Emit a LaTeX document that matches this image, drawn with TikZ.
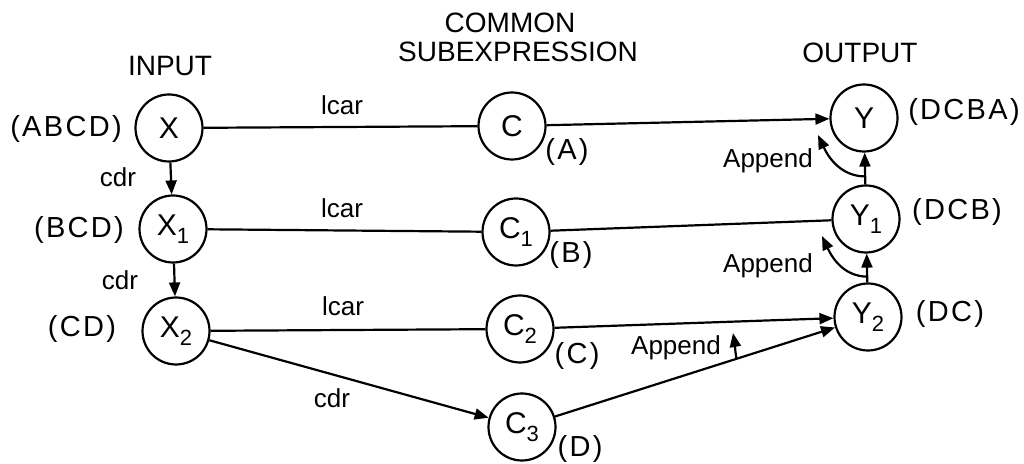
\documentclass[tikz,border=0pt]{standalone}
\usepackage{fontspec}
\setmainfont{Liberation Sans}
\usetikzlibrary{arrows.meta,calc}
\newcommand\sub[1]{\raisebox{-0.5ex}{\fontsize{11}{11}\selectfont #1}}
\tikzset{
  state/.style={circle,draw,line width=1.1pt,minimum size=33.5pt,inner sep=0pt,font=\fontsize{15}{15}\selectfont},
  lab/.style={inner sep=0pt,font=\fontsize{14.5}{14.5}\selectfont\addfontfeatures{LetterSpace=8}},
  small/.style={inner sep=0pt,font=\fontsize{13}{13}\selectfont},
  head/.style={inner sep=0pt,font=\fontsize{14}{14}\selectfont},
  edge/.style={line width=1.1pt},
  arr/.style={line width=1.1pt,-{Triangle[length=7pt,width=5.5pt]}},
}
\begin{document}
\begin{tikzpicture}[x=0.5pt,y=-0.5pt]
\useasboundingbox (0,0) rectangle (1024,464);
% headings
\node[head] (hin) at (170,66) {INPUT};
\node[head] (hc1) at (510,23) {COMMON};
\node[head] (hc2) at (518,52) {SUBEXPRESSION};
\node[head] (hout) at (860,53) {OUTPUT};
% nodes
\node[state] (X)  at (169,128) {X};
\node[state] (X1) at (173,229) {X\sub{1}};
\node[state] (X2) at (176,331) {X\sub{2}};
\node[state] (C)  at (512,126) {C};
\node[state] (C1) at (516,232) {C\sub{1}};
\node[state] (C2) at (520,329) {C\sub{2}};
\node[state] (C3) at (522,427) {C\sub{3}};
\node[state] (Y)  at (864,118) {Y};
\node[state] (Y1) at (866,219) {Y\sub{1}};
\node[state] (Y2) at (868,317) {Y\sub{2}};
% value labels
\node[lab] (vx)  at (66,129) {(ABCD)};
\node[lab] (vx1) at (79,230) {(BCD)};
\node[lab] (vx2) at (82,329) {(CD)};
\node[lab] (va) at (567,152) {(A)};
\node[lab] (vb) at (571,255) {(B)};
\node[lab] (vc) at (577,356) {(C)};
\node[lab] (vd) at (580,449) {(D)};
\node[lab] (vy)  at (964,112) {(DCBA)};
\node[lab] (vy1) at (957,212) {(DCB)};
\node[lab] (vy2) at (950,314) {(DC)};
% edge labels
\node[small] (l1) at (342,105) {lcar};
\node[small] (l2) at (342,208) {lcar};
\node[small] (l3) at (343,306) {lcar};
\node[small] (d1) at (118,177) {cdr};
\node[small] (d2) at (120,280) {cdr};
\node[small] (d3) at (332,398) {cdr};
\node[small] (p1) at (768,161) {Append};
\node[small] (p2) at (768,266) {Append};
\node[small] (p3) at (676,348) {Append};
% connectors
\draw[edge] (X) -- (C);
\draw[arr] (C) -- (Y);
\draw[edge] (X1) -- (C1);
\draw[edge] (C1) -- (Y1);
\draw[edge] (X2) -- (C2);
\draw[arr] (C2) -- (Y2);
\draw[arr] (X2) -- (C3);
\draw[arr] (C3) -- (Y2);
\draw[arr] (X) -- (X1);
\draw[arr] (X1) -- (X2);
\draw[arr] (Y1) -- (Y);
\draw[arr] (Y2) -- (Y1);
% append arrows
\coordinate (s1) at ($(Y1.north)!0.25!(Y.south)$);
\coordinate (t1) at (818,135);
\coordinate (s2) at ($(Y2.north)!0.2!(Y1.south)$);
\coordinate (t2) at (822,236);
\coordinate (s3) at ($(C3)!0.62!(Y2)$);
\coordinate (t3) at (733,333);
\draw[arr] (s1) to[out=180,in=-65] (t1);
\draw[arr] (s2) to[out=180,in=-65] (t2);
\draw[arr] (s3) to[out=100,in=-80] (t3);
\end{tikzpicture}
\end{document}
